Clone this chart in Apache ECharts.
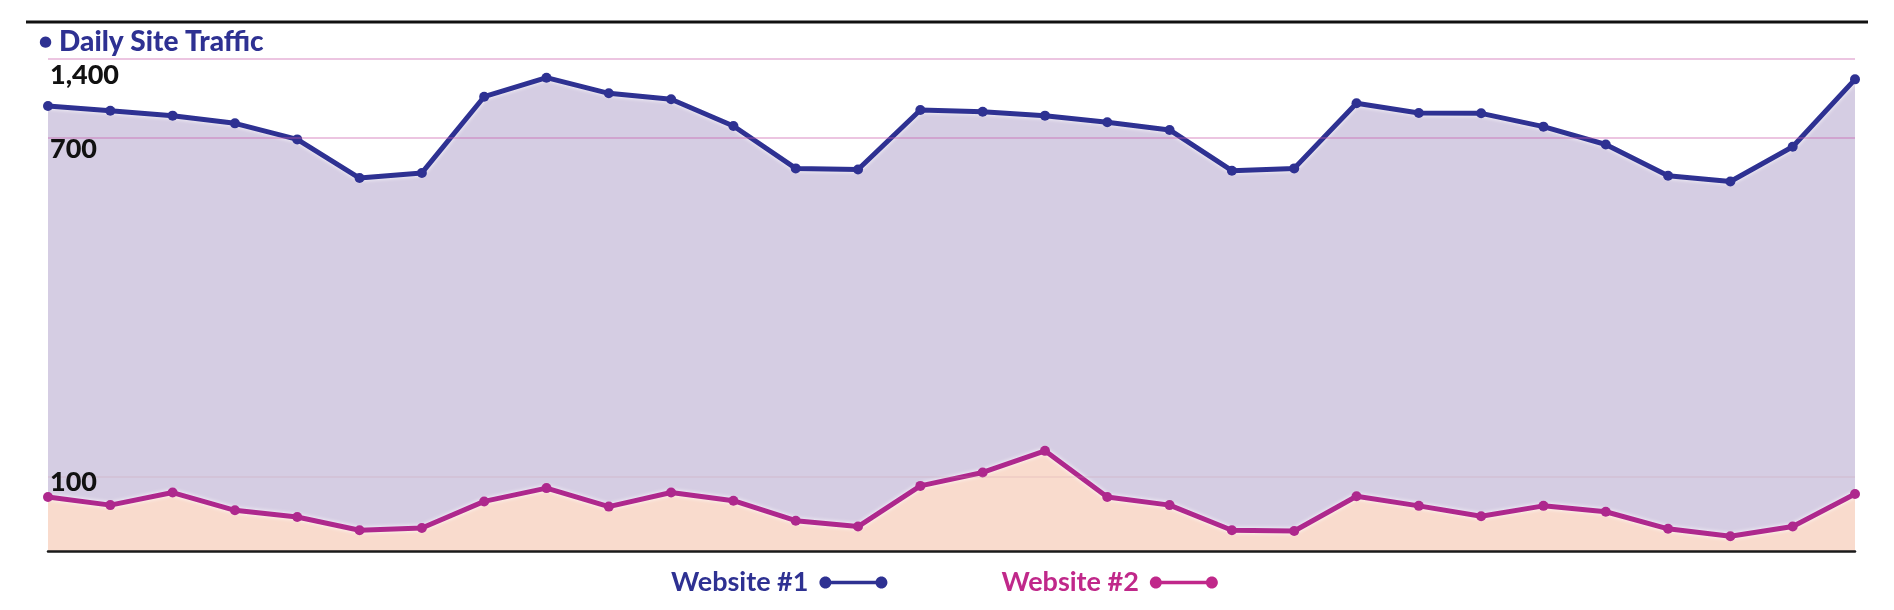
<!DOCTYPE html>
<html><head><meta charset="utf-8">
<script src="https://cdn.jsdelivr.net/npm/echarts@6/dist/echarts.min.js"></script>
<style>html,body{margin:0;padding:0;background:#fff}#c{width:1894px;height:610px}</style>
</head><body><div id="c"></div>
<script>
// ---- data ----
const days = [1,2,3,4,5,6,7,8,9,10,11,12,13,14,15,16,17,18,19,20,21,22,23,24,25,26,27,28,29,30];
const website1 = [973, 930, 885, 815, 694, 626, 635, 1057, 1230, 1088, 1034, 791, 643, 641, 936, 921, 885, 825, 755, 639, 643, 997, 909, 906, 785, 685, 630, 620, 681, 1215];
const website2 = [73, 62, 79, 55, 46, 28, 31, 67, 85, 60, 79, 68, 41, 33, 88, 108, 146, 73, 62, 28, 27, 74, 61, 47, 61, 53, 30, 20, 33, 77];
const tickValues = [100, 700, 1400];
const tickLabels = ['100', '700', '1,400'];

// ---- piecewise (broken) value scale used by the original graphic ----
const scaleValues = [0, 100, 700, 1400];
const scaleShares = [0, 0.1504, 0.8435, 1];
function toAxis(v) {
  for (let i = 1; i < scaleValues.length; i++) {
    if (v <= scaleValues[i] || i === scaleValues.length - 1) {
      const a = scaleValues[i-1], b = scaleValues[i];
      return scaleShares[i-1] + (v - a) / (b - a) * (scaleShares[i] - scaleShares[i-1]);
    }
  }
}
const PLOT_H = 492;                 // grid height in px
const labelDrop = [5, 13, 16];      // px: each tick label sits this far below its grid line
const labelAnchors = tickValues.map((v, i) => toAxis(v) - labelDrop[i] / PLOT_H);

// legend icon: dot — bar — dot, circles drawn with cubic curves
function circ(cx, cy, r) {
  const k = 0.5523 * r;
  return 'M' + (cx - r) + ' ' + cy +
    'C' + (cx - r) + ' ' + (cy - k) + ' ' + (cx - k) + ' ' + (cy - r) + ' ' + cx + ' ' + (cy - r) +
    'C' + (cx + k) + ' ' + (cy - r) + ' ' + (cx + r) + ' ' + (cy - k) + ' ' + (cx + r) + ' ' + cy +
    'C' + (cx + r) + ' ' + (cy + k) + ' ' + (cx + k) + ' ' + (cy + r) + ' ' + cx + ' ' + (cy + r) +
    'C' + (cx - k) + ' ' + (cy + r) + ' ' + (cx - r) + ' ' + (cy + k) + ' ' + (cx - r) + ' ' + cy + 'Z';
}
const legendIcon = 'path://' + circ(6, 6, 6) + 'M6 4.2L62 4.2L62 7.8L6 7.8Z' + circ(62, 6, 6);

const FONT = 'Lato';
const chart = echarts.init(document.getElementById('c'), null, {renderer: 'canvas'});
const blue = '#2e3192', magenta = '#ae288d', pink = '#c0288a';
const halo = {shadowColor: 'rgba(255,255,255,0.95)', shadowBlur: 4};
chart.setOption({
  backgroundColor: '#fff',
  animation: false,
  title: {
    left: 34, top: 23,
    text: '{d|●}{t|Daily Site Traffic}',
    textStyle: {rich: {
      d: {fontSize: 15, color: blue, padding: [0, 7, 0, 0], fontFamily: 'DejaVu Sans'},
      t: {fontSize: 28, fontWeight: 900, fontFamily: FONT, color: blue}
    }}
  },
  graphic: [{
    type: 'line', z: 100,
    shape: {x1: 26, y1: 22, x2: 1868, y2: 22},
    style: {stroke: '#111', lineWidth: 3}
  }],
  legend: {
    left: 666, top: 564, align: 'right',
    itemWidth: 68, itemHeight: 12, itemGap: 114,
    icon: legendIcon,
    itemStyle: {borderWidth: 0},
    textStyle: {fontFamily: FONT, fontWeight: 'bold', fontSize: 27, padding: [0, 6, 0, 0]},
    data: [
      {name: 'Website #1', textStyle: {color: blue}, itemStyle: {color: blue, borderWidth: 0, opacity: 1}},
      {name: 'Website #2', textStyle: {color: pink}, itemStyle: {color: pink, borderWidth: 0, opacity: 1}}
    ]
  },
  grid: {left: 48, right: 39, top: 59, bottom: 59},
  xAxis: {
    type: 'category', data: days, boundaryGap: false, z: 10,
    axisLabel: {show: false}, axisTick: {show: false},
    axisLine: {lineStyle: {color: '#1a1a1a', width: 2.5}}
  },
  yAxis: {
    type: 'value', min: 0, max: 1, z: 10,
    axisLine: {show: false}, axisTick: {show: false}, splitLine: {show: false},
    axisLabel: {
      inside: true, margin: 2, verticalAlign: 'middle',
      fontFamily: FONT, fontWeight: 900, fontSize: 27, color: '#111',
      customValues: labelAnchors,
      formatter: function (val) {
        let best = 0, d = 1e9;
        labelAnchors.forEach((a, i) => { const dd = Math.abs(a - val); if (dd < d) { d = dd; best = i; } });
        return tickLabels[best];
      }
    }
  },
  series: [
    {
      name: 'Website #1', type: 'line', data: website1.map(toAxis),
      symbol: 'circle', symbolSize: 10,
      lineStyle: Object.assign({color: blue, width: 5}, halo),
      itemStyle: {color: blue},
      areaStyle: {color: '#d5cde3', opacity: 1},
      markLine: {
        silent: true, symbol: 'none', label: {show: false}, animation: false,
        lineStyle: {color: 'rgba(200,90,170,0.35)', width: 2, type: 'solid'},
        data: [{yAxis: toAxis(700)}, {yAxis: toAxis(1400)}]
      }
    },
    {
      name: 'Website #2', type: 'line', data: website2.map(toAxis),
      symbol: 'circle', symbolSize: 10,
      lineStyle: Object.assign({color: magenta, width: 5}, halo),
      itemStyle: {color: magenta},
      areaStyle: {color: '#f9dbcd', opacity: 1},
      markLine: {
        silent: true, symbol: 'none', label: {show: false}, animation: false,
        lineStyle: {color: 'rgba(205,150,170,0.22)', width: 1.5, type: 'solid'},
        data: [{yAxis: toAxis(100)}]
      }
    }
  ]
});
</script>
</body></html>
